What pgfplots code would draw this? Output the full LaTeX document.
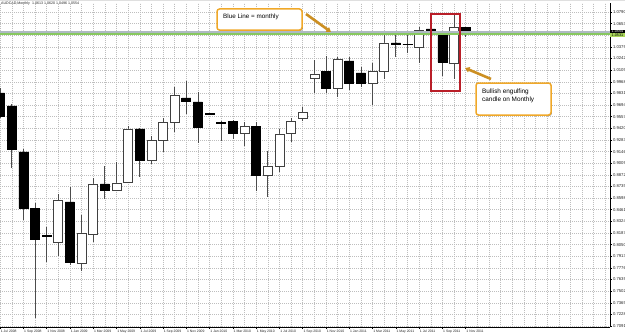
\documentclass[border=0pt]{standalone}
\usepackage{pgfplots}
\pgfplotsset{compat=1.18}
\usepackage{pgfplotstable}
\usepackage{fontspec}
\setmainfont{Liberation Sans}
\usetikzlibrary{arrows.meta,shadows}

\definecolor{gridc}{RGB}{190,190,190}
\definecolor{annor}{RGB}{240,168,40}
\definecolor{boxred}{RGB}{185,30,40}
\definecolor{mline}{RGB}{135,200,95}
\definecolor{bidline}{RGB}{175,185,195}
\definecolor{mlabel}{RGB}{170,215,90}

% month index (0 = Jul 2008), open, high, low, close
\pgfplotstableread{
m o h l c
0 0.9836 0.9895 0.9541 0.9565
1 0.9683 0.9706 0.8952 0.9176
2 0.9141 0.9176 0.8340 0.8481
3 0.8481 0.8540 0.7185 0.8116
4 0.8163 0.8257 0.7845 0.8151
5 0.8081 0.8646 0.7916 0.8575
6 0.8552 0.8729 0.7810 0.7845
7 0.7833 0.8399 0.7739 0.8187
8 0.8175 0.8835 0.8081 0.8764
9 0.8764 0.8976 0.8587 0.8693
10 0.8693 0.9023 0.8681 0.8776
11 0.8787 0.9447 0.8776 0.9412
12 0.9412 0.9424 0.8846 0.9047
13 0.9047 0.9329 0.9000 0.9282
14 0.9282 0.9541 0.9141 0.9494
15 0.9494 0.9907 0.9376 0.9812
16 0.9777 0.9977 0.9589 0.9742
17 0.9730 0.9848 0.9247 0.9435
18 0.9594 0.9600 0.9577 0.9583
19 0.9488 0.9506 0.9270 0.9482
20 0.9506 0.9518 0.9294 0.9365
21 0.9365 0.9494 0.9212 0.9447
22 0.9447 0.9494 0.8681 0.8870
23 0.8870 0.9153 0.8611 0.8976
24 0.8976 0.9412 0.8905 0.9353
25 0.9365 0.9541 0.9259 0.9506
26 0.9541 0.9671 0.9506 0.9612
27 1.0013 1.0225 0.9836 1.0060
28 1.0095 1.0272 0.9836 0.9895
29 0.9895 1.0260 0.9789 1.0236
30 1.0213 1.0260 0.9871 0.9954
31 1.0072 1.0142 0.9907 0.9954
32 0.9954 1.0189 0.9694 1.0095
33 1.0095 1.0543 1.0001 1.0425
34 1.0425 1.0566 1.0260 1.0407
35 1.0413 1.0531 1.0307 1.0407
36 1.0378 1.0613 1.0189 1.0578
37 1.0590 1.0613 0.9966 1.0543
38 1.0531 1.0566 1.0036 1.0201
39 1.0189 1.0755 1.0001 1.0613
40 1.0613 1.0613 1.0496 1.0554
}\candles

\pgfplotsset{
  candleaxis/.style={
    at={(0bp,7bp)}, anchor=south west, scale only axis,
    width=610bp, height=324bp,
    xmin=-0.01, xmax=52.4, ymin=0.70793, ymax=1.08961,
  }
}

\begin{document}
\begin{tikzpicture}
\begin{scope}[x=1bp,y=1bp]
\fill[white] (0,0) rectangle (625,334);
\fill[gray!25] (0,332.8) rectangle (625,334);
\end{scope}

% main axis: grid, ticks, wicks
\begin{axis}[candleaxis,
  axis x line*=bottom, axis y line*=right,
  axis line style={black, line width=0.8bp},
  tick align=outside, major tick length=2bp, minor tick length=0pt,
  tick style={black, line width=0.5bp},
  xtick={0,2,...,40},
  xticklabels={1 Jul 2008, 1 Sep 2008, 1 Nov 2008, 1 Jan 2009, 1 Mar 2009, 1 May 2009, 1 Jul 2009, 1 Sep 2009, 1 Nov 2009, 1 Jan 2010, 1 Mar 2010, 1 May 2010, 1 Jul 2010, 1 Sep 2010, 1 Nov 2010, 1 Jan 2011, 1 Mar 2011, 1 May 2011, 1 Jul 2011, 1 Sep 2011, 1 Nov 2011},
  minor xtick={1,3,5,7,9,11,13,15,17,19,21,23,25,27,29,31,33,35,37,39,41,42,43,44,45,46,47,48,49,50,51,52},
  ytick={0.7091,0.7228,0.7365,0.7502,0.7639,0.7776,0.7913,0.8050,0.8187,0.8324,0.8461,0.8598,0.8735,0.8872,0.9009,0.9146,0.9283,0.9420,0.9557,0.9694,0.9831,0.9968,1.0105,1.0242,1.0379,1.0516,1.0653,1.0790},
  yticklabels={0.7091,0.7228,0.7365,0.7502,0.7639,0.7776,0.7913,0.8050,0.8187,0.8324,0.8461,0.8598,0.8735,0.8872,0.9009,0.9146,0.9283,0.9420,0.9557,0.9694,0.9831,0.9968,1.0105,1.0242,1.0379,{},1.0653,1.0790},
  grid=both,
  major grid style={draw=gridc, dash pattern=on 1bp off 1bp, line width=0.5bp},
  minor grid style={draw=gridc, dash pattern=on 1bp off 1bp, line width=0.5bp},
  xticklabel style={anchor=north west, inner sep=0.6bp, font=\fontsize{3.4bp}{4bp}\selectfont, text=black!85},
  yticklabel style={inner sep=0.8bp, font=\fontsize{4.2bp}{5bp}\selectfont, text=black!85},
]
\addplot[draw=none, mark=none, forget plot,
  error bars/.cd, y dir=plus, y explicit, error mark=none,
  error bar style={draw=black!70, line width=0.8bp}]
  table[x=m, y=l, y error expr=\thisrow{h}-\thisrow{l}] {\candles};
\end{axis}

% candle bodies
\begin{axis}[candleaxis, axis lines=none, xtick=\empty, ytick=\empty,
  ybar stacked, bar width=9bp]
\addplot[draw=none, fill=none] table[x=m, y expr={min(\thisrow{o},\thisrow{c})}] {\candles};
\addplot[draw=black!75, fill=white, line width=0.7bp] table[x=m, y expr={max(\thisrow{c}-\thisrow{o},0)}] {\candles};
\addplot[draw=black, fill=black, line width=0.7bp] table[x=m, y expr={max(\thisrow{o}-\thisrow{c},0)}] {\candles};
\end{axis}

% horizontal lines and price labels
\begin{axis}[candleaxis, axis lines=none, xtick=\empty, ytick=\empty, clip=false]
\addplot[bidline, line width=1.1bp] coordinates {(-0.01,1.0554) (52.4,1.0554)};
\addplot[mline, line width=1.2bp] coordinates {(-0.01,1.0531) (52.4,1.0531)};
\node[anchor=west, fill=mlabel, text=black, inner xsep=0.6bp, inner ysep=0.2bp, minimum height=3.6bp, minimum width=14.5bp, font=\fontsize{3.8bp}{4bp}\selectfont] at (axis cs:52.4,1.0521) {1.0531};
\node[anchor=west, fill=black, text=white, inner xsep=0.6bp, inner ysep=0.2bp, minimum height=3.8bp, minimum width=14.5bp, font=\fontsize{3.8bp}{4bp}\selectfont] at (axis cs:52.4,1.0561) {1.0554};
\end{axis}

\begin{scope}[x=1bp,y=1bp]
% title
\node[anchor=west, inner sep=0pt, font=\fontsize{3.6bp}{4bp}\selectfont, text=black!85] at (1,330) {AUDCAD,Monthly\ \ 1.0613 1.0620 1.0496 1.0554};
% annotation 1
\draw[annor, line width=1.5bp, rounded corners=2.5bp, fill=white,
  drop shadow={shadow xshift=0.9bp, shadow yshift=-0.9bp, fill=black!55, opacity=0.7}]
  (217,325) rectangle (302,304);
\node[anchor=west, inner sep=0pt, font=\fontsize{6.3bp}{7bp}\selectfont] at (223,316.8) {Blue Line = monthly};
\draw[annor!85!black, line width=2.6bp, -{Triangle[length=4.5bp,width=5.5bp]}] (306,320) -- (331,302);
% red box
\draw[boxred, line width=1.8bp] (431,320) rectangle (460,243);
% annotation 2
\draw[annor, line width=1.5bp, rounded corners=2.5bp, fill=white,
  drop shadow={shadow xshift=0.9bp, shadow yshift=-0.9bp, fill=black!55, opacity=0.7}]
  (476,251) rectangle (551,219);
\node[anchor=west, inner sep=0pt, font=\fontsize{6.4bp}{7bp}\selectfont] at (482,242.5) {Bullish engulfing};
\node[anchor=west, inner sep=0pt, font=\fontsize{6.4bp}{7bp}\selectfont] at (482,234.5) {candle on Monthly};
\draw[annor!85!black, line width=2.6bp, -{Triangle[length=4.5bp,width=5.5bp]}] (491,255) -- (465,266);
\pgfresetboundingbox
\path[use as bounding box] (0,0) rectangle (625,334);
\end{scope}
\end{tikzpicture}
\end{document}
